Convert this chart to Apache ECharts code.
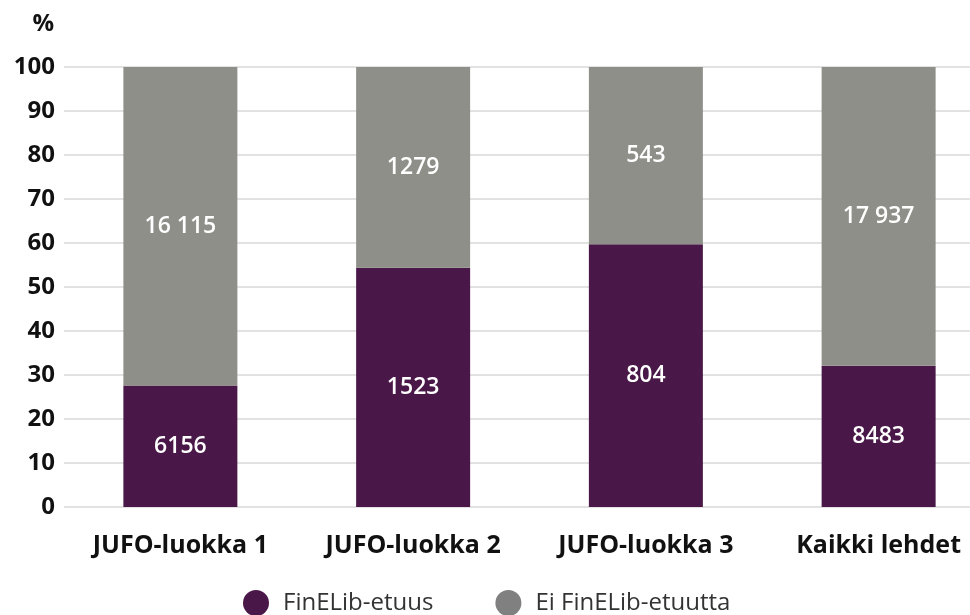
<!DOCTYPE html>
<html>
<head>
<meta charset="utf-8">
<script src="https://cdn.jsdelivr.net/npm/echarts@6/dist/echarts.min.js"></script>
<style>
  html, body { margin: 0; padding: 0; background: #fff; }
  #chart { width: 970px; height: 615px; }
</style>
</head>
<body>
<div id="chart"></div>
<script>
const categories = ['JUFO-luokka 1', 'JUFO-luokka 2', 'JUFO-luokka 3', 'Kaikki lehdet']
const seriesNames = ['FinELib-etuus', 'Ei FinELib-etuutta']
const withBenefit = [6156, 1523, 804, 8483]
const withoutBenefit = [16115, 1279, 543, 17937]
const yTicks = [0, 10, 20, 30, 40, 50, 60, 70, 80, 90, 100]

// thousands separator only from five digits up, as in the source
const fmt = n => n >= 10000 ? String(n).replace(/\B(?=(\d{3})+(?!\d))/g, ' ') : String(n)
const share = (a, b) => a.map((v, i) => +(v / (v + b[i]) * 100).toFixed(2))

const font = "'Open Sans', 'Noto Sans', sans-serif"
const chart = echarts.init(document.getElementById('chart'))

const makeSeries = (name, counts, other, color) => ({
  name,
  type: 'bar',
  stack: 'total',
  barWidth: 114,
  data: share(counts, other).map((v, i) => ({ value: v, count: counts[i] })),
  itemStyle: { color },
  label: {
    show: true,
    position: 'inside',
    color: '#fff',
    fontFamily: font,
    fontSize: 23,
    fontWeight: 600,
    formatter: p => fmt(p.data.count),
  },
})

chart.setOption({
  animation: false,
  textStyle: { fontFamily: font },
  grid: { left: 64, width: 931, top: 67, bottom: 108, outerBoundsMode: 'none', containLabel: false },
  legend: {
    top: 585,
    left: 238,
    itemGap: 62,
    itemWidth: 26,
    itemHeight: 26,
    icon: 'circle',
    textStyle: { fontFamily: font, fontSize: 24, color: '#333', padding: [0, 0, 0, 9] },
    data: [
      { name: seriesNames[0], itemStyle: { color: '#4a1848' } },
      { name: seriesNames[1], itemStyle: { color: '#808080' } },
    ],
  },
  xAxis: {
    type: 'category',
    data: categories,
    axisLine: { show: false },
    axisTick: { show: false },
    axisLabel: {
      color: '#111', fontFamily: font, fontSize: 25, fontWeight: 'bold', margin: 26,
    },
  },
  yAxis: {
    type: 'value',
    min: yTicks[0],
    max: yTicks[yTicks.length - 1],
    interval: 10,
    name: '%',
    nameLocation: 'end',
    nameGap: 31,
    nameTextStyle: {
      color: '#111', fontFamily: font, fontSize: 24, fontWeight: 'bold',
      align: 'right', padding: [0, 10, 0, 0],
    },
    axisLabel: {
      color: '#111', fontFamily: font, fontSize: 24, fontWeight: 'bold', margin: 9,
    },
    splitLine: { lineStyle: { color: '#d9d9d9', width: 1.5 } },
  },
  series: [
    makeSeries(seriesNames[0], withBenefit, withoutBenefit, '#4a1848'),
    makeSeries(seriesNames[1], withoutBenefit, withBenefit, '#8f8f89'),
  ],
})
</script>
</body>
</html>
